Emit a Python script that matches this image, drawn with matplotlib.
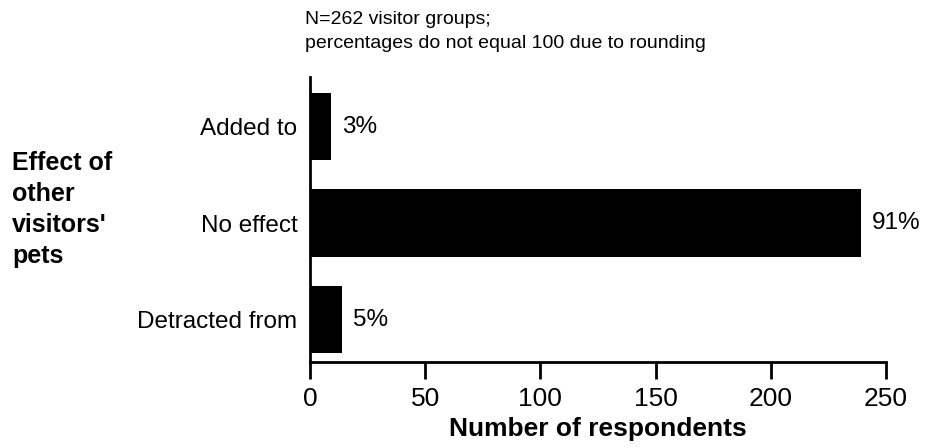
import matplotlib
matplotlib.use("Agg")
import matplotlib.pyplot as plt
import numpy as np

plt.rcParams['font.family'] = ['Liberation Sans', 'DejaVu Sans']

# responses, bottom to top
categories = ["Detracted from", "No effect", "Added to"]
counts = [14, 239, 9]
total = 262
xticks = [0, 50, 100, 150, 200, 250]


def main():
    fig = plt.figure(figsize=(9.27, 4.48), dpi=100)
    ax = fig.add_axes([0.3344, 0.192, 0.6214, 0.636])

    ypos = np.arange(len(categories))
    ax.barh(ypos, counts, height=0.70, color='black')

    for y, c in zip(ypos, counts):
        pct = int(round(100.0 * c / total))
        ax.annotate(f"{pct}%", xy=(c, y), xytext=(8, 0),
                    textcoords='offset points', va='center', ha='left',
                    fontsize=17.5, clip_on=False)

    ax.set_xlim(0, 250)
    ax.set_ylim(-0.44, 2.513)
    ax.set_yticks(ypos)
    ax.set_yticklabels(categories, fontsize=17.5)
    ax.set_xticks(xticks)
    ax.set_xticklabels([str(t) for t in xticks], fontsize=19)
    ax.tick_params(axis='y', length=0, pad=9)
    ax.tick_params(axis='x', direction='out', length=12, width=2, pad=6)
    ax.set_xlabel("Number of respondents", fontsize=19, fontweight='bold',
                  labelpad=4)

    for side in ('top', 'right'):
        ax.spines[side].set_visible(False)
    ax.spines['left'].set_linewidth(2)
    ax.spines['bottom'].set_linewidth(2)

    fig.text(305 / 927, 1 - 20 / 448, "N=262 visitor groups;",
             fontsize=14, va='center', ha='left')
    fig.text(305 / 927, 1 - 43 / 448,
             "percentages do not equal 100 due to rounding",
             fontsize=14, va='center', ha='left')

    # group label on the far left
    for i, line in enumerate(["Effect of", "other", "visitors'", "pets"]):
        fig.text(12 / 927, 1 - (163 + 31 * i) / 448, line, fontsize=18,
                 fontweight='bold', va='center', ha='left')

    fig.savefig("out.png", dpi=100, facecolor='white')


if __name__ == '__main__':
    main()
